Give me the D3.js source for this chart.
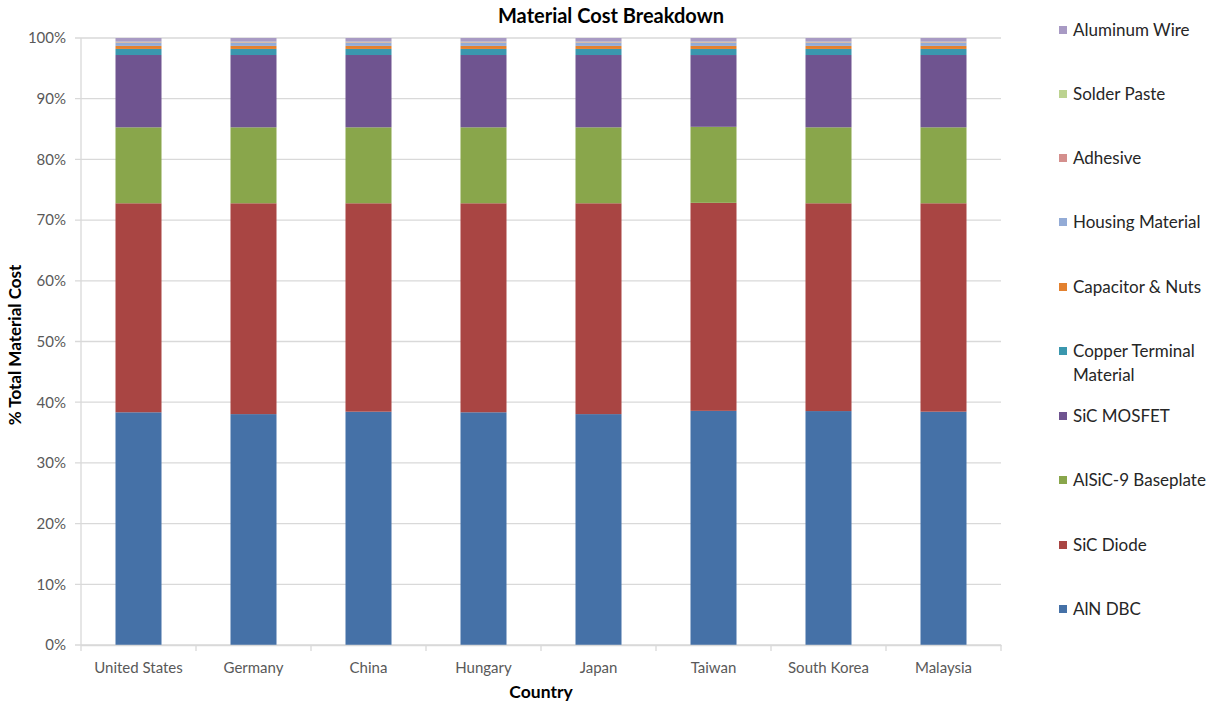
<!DOCTYPE html>
<html><head><meta charset="utf-8">
<script src="https://cdn.jsdelivr.net/npm/d3@7"></script>
<style>
body{margin:0;background:#fff;}
text{font-family:Lato,"Open Sans",sans-serif;}
</style></head>
<body><svg id="c" width="1215" height="704"></svg>
<script>
const countries = ["United States","Germany","China","Hungary","Japan","Taiwan","South Korea","Malaysia"];
const seriesNames = ["AlN DBC","SiC Diode","AlSiC-9 Baseplate","SiC MOSFET","Copper Terminal Material","Capacitor & Nuts","Housing Material","Adhesive","Solder Paste","Aluminum Wire"];
const seriesColors = ["#4571a7","#a94543","#89a64b","#6f5490","#3a97ae","#e3812f","#93abd6","#d48f8d","#bcd390","#a89ac4"];
const alnDBC      = [38.3, 38.0, 38.4, 38.3, 38.0, 38.5, 38.5, 38.4];
const sicDiode    = [34.4, 34.7, 34.3, 34.4, 34.7, 34.2, 34.2, 34.3];
const alsicBase   = [12.5, 12.5, 12.5, 12.5, 12.5, 12.5, 12.5, 12.5];
const sicMosfet   = [11.9, 11.9, 11.9, 11.9, 11.9, 11.8, 11.9, 11.9];
const copperTerm  = [1.0, 1.0, 1.0, 1.0, 1.0, 1.0, 1.0, 1.0];
const capacitor   = [0.5, 0.5, 0.5, 0.5, 0.5, 0.5, 0.5, 0.5];
const housing     = [0.5, 0.5, 0.5, 0.5, 0.5, 0.5, 0.5, 0.5];
const adhesive    = [0.1, 0.1, 0.1, 0.1, 0.1, 0.1, 0.1, 0.1];
const solderPaste = [0.1, 0.1, 0.1, 0.1, 0.1, 0.1, 0.1, 0.1];
const alWire      = [0.6, 0.6, 0.6, 0.6, 0.6, 0.6, 0.6, 0.6];
const yTicks = [0,0.1,0.2,0.3,0.4,0.5,0.6,0.7,0.8,0.9,1.0];

const seriesVals = [alnDBC,sicDiode,alsicBase,sicMosfet,copperTerm,capacitor,housing,adhesive,solderPaste,alWire];
const table = countries.map((c,i)=>{const o={country:c}; seriesNames.forEach((s,j)=>o[s]=seriesVals[j][i]); return o;});

const svg = d3.select("#c");
const L=81, R=1001, T=38, B=645;
const x = d3.scaleBand().domain(countries).range([L,R]).paddingInner(0.6).paddingOuter(0.3);
const xb = d3.scaleBand().domain(countries).range([L,R]);
const y = d3.scaleLinear().domain([0,1]).range([B,T]);
const color = d3.scaleOrdinal().domain(seriesNames).range(seriesColors);

// gridlines
svg.append("g").selectAll("line").data(yTicks).join("line")
  .attr("x1",L-6).attr("x2",R).attr("y1",d=>y(d)).attr("y2",d=>y(d))
  .attr("stroke","#d9d9d9").attr("stroke-width",1.3);
// y axis line
svg.append("line").attr("x1",L).attr("x2",L).attr("y1",T).attr("y2",B).attr("stroke","#d9d9d9").attr("stroke-width",1.3);

const yAxis = d3.axisLeft(y).tickValues(yTicks).tickFormat(d3.format(".0%")).tickSize(0).tickPadding(15);
const ga = svg.append("g").attr("transform",`translate(${L},0)`).call(yAxis);
ga.select(".domain").remove();
ga.selectAll("text").attr("font-size",15).attr("fill","#595959").attr("font-family","Lato,sans-serif");

const stack = d3.stack().keys(seriesNames).offset(d3.stackOffsetExpand);
const stacked = stack(table);
svg.append("g").selectAll("g").data(stacked).join("g").attr("fill",d=>color(d.key))
  .selectAll("rect").data(d=>d).join("rect")
  .attr("x",d=>x(d.data.country)).attr("width",x.bandwidth())
  .attr("y",d=>y(d[1])).attr("height",d=>y(d[0])-y(d[1]));

// x axis
const xAxis = d3.axisBottom(xb).tickSize(0).tickPadding(17);
const gx = svg.append("g").attr("transform",`translate(0,${B})`).call(xAxis);
gx.select(".domain").attr("stroke","#d9d9d9").attr("stroke-width",1.3);
gx.selectAll("text").attr("font-size",15).attr("fill","#595959");
svg.append("g").selectAll("line").data(countries.concat(["__end"])).join("line")
  .attr("x1",(d,i)=>L+i*xb.bandwidth()).attr("x2",(d,i)=>L+i*xb.bandwidth())
  .attr("y1",B).attr("y2",B+6).attr("stroke","#d9d9d9").attr("stroke-width",1.3);

// titles
svg.append("text").attr("x",611).attr("y",23).attr("text-anchor","middle").attr("font-size",20).attr("font-weight","bold").attr("fill","#000").text("Material Cost Breakdown");
svg.append("text").attr("x",541).attr("y",698).attr("text-anchor","middle").attr("font-size",17.5).attr("font-weight","bold").attr("fill","#000").text("Country");
svg.append("text").attr("transform","translate(21,345) rotate(-90)").attr("text-anchor","middle").attr("font-size",17).attr("font-weight","bold").attr("fill","#000").text("% Total Material Cost");

// legend (reverse order, top to bottom)
const legendItems = seriesNames.slice().reverse();
const legendY = [30,94,158,222,287,351,416,480,545,609];
const lg = svg.append("g").selectAll("g").data(legendItems).join("g")
  .attr("transform",(d,i)=>`translate(1059,${legendY[i]})`);
lg.append("rect").attr("x",0).attr("y",-4).attr("width",8).attr("height",8).attr("fill",d=>color(d));
lg.each(function(d){
  const g=d3.select(this);
  const lines = d==="Copper Terminal Material" ? ["Copper Terminal","Material"] : [d];
  lines.forEach((t,k)=>g.append("text").attr("x",14).attr("y",6+k*24).attr("font-size",17).attr("fill","#262626").text(t));
});
</script></body></html>
